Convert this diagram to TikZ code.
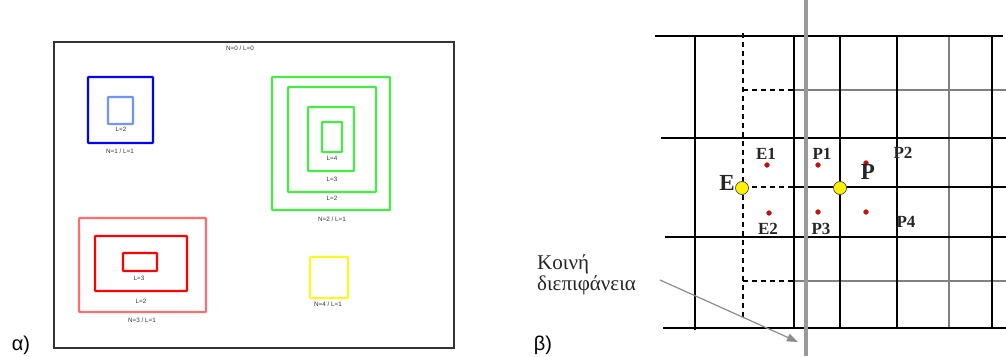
\documentclass[tikz,border=0pt]{standalone}
\usepackage{fontspec}
\setmainfont{Liberation Serif}
\newfontfamily\sansf{Liberation Sans}
\usetikzlibrary{arrows.meta}
\definecolor{grn}{RGB}{70,235,70}
\definecolor{lred}{RGB}{255,110,110}
\definecolor{lblue}{RGB}{110,150,255}
\definecolor{yel}{RGB}{255,245,40}
\begin{document}
\begin{tikzpicture}[x=1pt,y=-1pt,
  tiny/.style={font=\sansf\fontsize{6.3}{6.3}\selectfont, inner sep=0pt, text=black!80},
  bx/.style={line width=2.3pt, rounded corners=0.8pt},
  gk/.style={line width=2.5pt, black},
  gt/.style={line width=1.7pt, black},
  gg/.style={line width=2pt, black!50},
  dsh/.style={line width=1.6pt, black, dash pattern=on 5pt off 4pt},
  pt/.style={circle, fill=red!90!black, draw=black!60, line width=0.3pt, inner sep=0pt, minimum size=5pt},
  yc/.style={circle, fill=yellow, draw=black!70, line width=0.7pt, inner sep=0pt, minimum size=13pt},
  lb/.style={font=\bfseries\fontsize{17}{17}\selectfont, inner sep=0pt, text=black!85},
  big/.style={font=\bfseries\fontsize{23}{23}\selectfont, inner sep=0pt, text=black!85},
  captext/.style={font=\sansf\fontsize{20}{20}\selectfont, inner sep=0pt}
]
\useasboundingbox (0,0) rectangle (1006,356);
% ---------- panel alpha ----------
\node[captext] (alpha) at (21,345) {α)};
\draw[line width=1.8pt, black!80] (54,42) rectangle (454,348);
\node[tiny] (n0) at (240,48) {N=0 / L=0};
% blue
\draw[bx, blue] (88,77) rectangle (153,143);
\draw[bx, lblue] (108,97) rectangle (133,124);
\node[tiny] (b2) at (121,129) {L=2};
\node[tiny] (b1) at (120,151) {N=1 / L=1};
% green
\draw[bx, grn] (272,77) rectangle (390,210);
\draw[bx, grn] (288,87) rectangle (376,192);
\draw[bx, grn] (308,107) rectangle (354,171);
\draw[bx, grn] (322,122) rectangle (342,152);
\node[tiny] (g4) at (332,158) {L=4};
\node[tiny] (g3) at (332,179) {L=3};
\node[tiny] (g2) at (332,198) {L=2};
\node[tiny] (g1) at (332,219) {N=2 / L=1};
% red
\draw[bx, lred] (79,218) rectangle (206,312);
\draw[bx, red] (95,236) rectangle (187,291);
\draw[bx, red] (123,253) rectangle (157,271);
\node[tiny] (r3) at (139,278) {L=3};
\node[tiny] (r2) at (141,301) {L=2};
\node[tiny] (r1) at (142,320) {N=3 / L=1};
% yellow
\draw[bx, yel] (310,257) rectangle (348,298);
\node[tiny] (y1) at (328,304) {N=4 / L=1};
% ---------- panel beta ----------
\node[captext] (beta) at (543,345) {β)};
% gray lines
\draw[gg] (794,90) -- (1006,90);
\draw[gg] (794,281) -- (1006,281);
\draw[gg] (949,36) -- (949,328);
% thick horizontals
\draw[gk] (655,36) -- (1003,36);
\draw[gk] (661,138) -- (1006,138);
\draw[gk] (665,237) -- (1006,237);
\draw[gk] (663,328) -- (1006,328);
\draw[gt] (794,187) -- (1006,187);
% verticals
\draw[gk] (695,37) -- (695,330);
\draw[gk] (794,36) -- (794,328);
\draw[gt] (840,36) -- (840,328);
\draw[gk] (897,36) -- (897,328);
\draw[gk] (992,36) -- (992,328);
% dashed
\draw[dsh] (743,33) -- (743,318);
\draw[dsh] (743,90) -- (794,90);
\draw[dsh] (743,187) -- (794,187);
\draw[dsh] (743,281) -- (794,281);
% interface
\draw[line width=3.5pt, black!40] (806,0) -- (806,356);
% points
\node[pt] (e1) at (767,165) {};
\node[pt] (e2) at (769,213) {};
\node[pt] (p1) at (818,165) {};
\node[pt] (p3) at (818,212) {};
\node[pt] (pp) at (866,163) {};
\node[pt] (p4) at (866,212) {};
\node[yc] (E) at (742,188) {};
\node[yc] (Pf) at (840,188) {};
\node[lb] (le1) at (766,154) {E1};
\node[lb] (lp1) at (822,154) {P1};
\node[lb] (lp2) at (903,153) {P2};
\node[lb] (le2) at (768,229) {E2};
\node[lb] (lp3) at (821,229) {P3};
\node[lb] (lp4) at (906,222) {P4};
\node[big] (lE) at (727,183) {E};
\node[big] (lP) at (868,172) {P};
% label + arrow
\node[font=\fontsize{21}{21}\selectfont, align=left, inner sep=0pt, text=black!85, anchor=west] (ki) at (537,275) {Κοινή\\διεπιφάνεια};
\coordinate (as) at (660,280);
\coordinate (ae) at (798,342);
\draw[line width=1.2pt, black!45, -{Triangle[length=11pt,width=8pt]}] (as) -- (ae);
\end{tikzpicture}
\end{document}
